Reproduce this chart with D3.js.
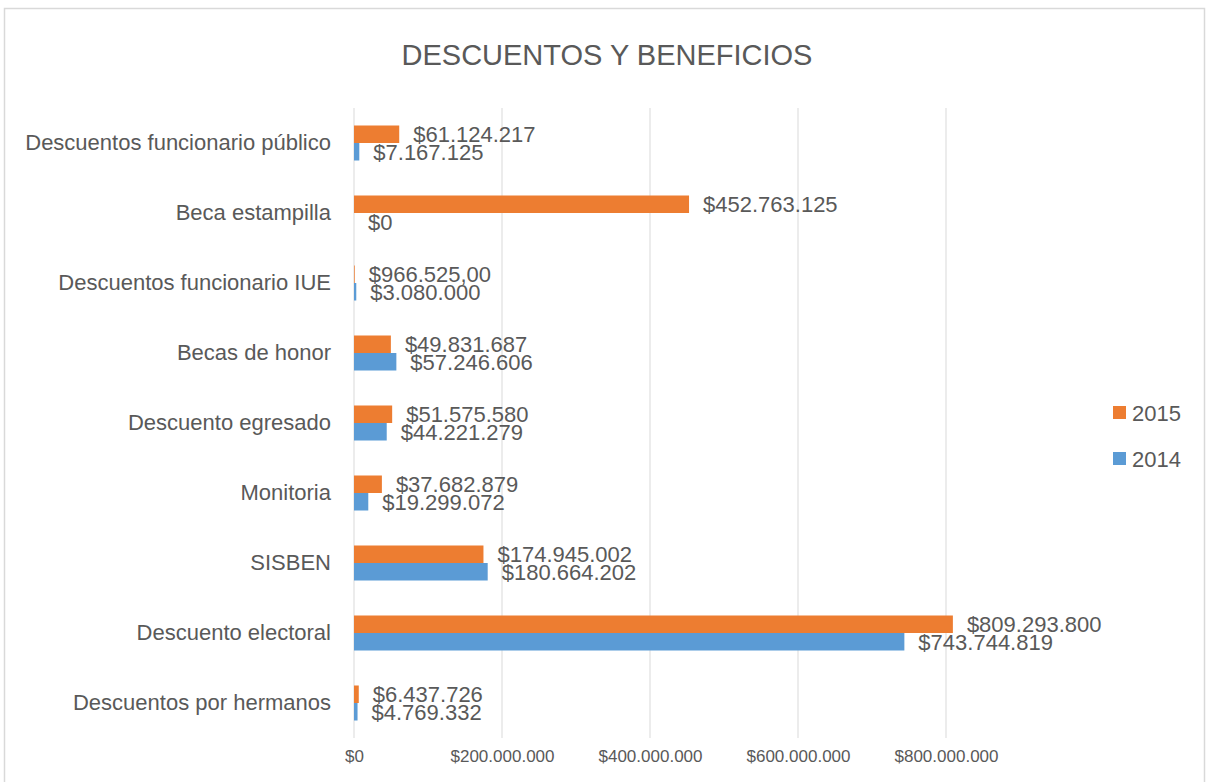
<!DOCTYPE html>
<html lang="es">
<head>
<meta charset="UTF-8">
<title>Descuentos y beneficios</title>
<style>
  body { margin: 0; padding: 0; background: #fff; }
  svg { display: block; font-family: "Liberation Sans", Arial, sans-serif; }
</style>
</head>
<body>
<div id="chart"></div>
<script src="https://cdn.jsdelivr.net/npm/d3@7"></script>
<script>
// data (top to bottom as shown)
const categories = [
  "Descuentos funcionario público",
  "Beca estampilla",
  "Descuentos funcionario IUE",
  "Becas de honor",
  "Descuento egresado",
  "Monitoria",
  "SISBEN",
  "Descuento electoral",
  "Descuentos por hermanos"
];
const values2015 = [61124217, 452763125, 966525, 49831687, 51575580, 37682879, 174945002, 809293800, 6437726];
const values2014 = [7167125, 0, 3080000, 57246606, 44221279, 19299072, 180664202, 743744819, 4769332];
const labels2015 = ["$61.124.217", "$452.763.125", "$966.525,00", "$49.831.687", "$51.575.580", "$37.682.879", "$174.945.002", "$809.293.800", "$6.437.726"];
const labels2014 = ["$7.167.125", "$0", "$3.080.000", "$57.246.606", "$44.221.279", "$19.299.072", "$180.664.202", "$743.744.819", "$4.769.332"];
const series = ["2015", "2014"];
const tickValues = [0, 200000000, 400000000, 600000000, 800000000];
const tickLabels = ["$0", "$200.000.000", "$400.000.000", "$600.000.000", "$800.000.000"];

const w = 1208, h = 782;
const margin = { top: 108, left: 354, bottom: 44 };
const colors = { "2015": "#ED7D31", "2014": "#5B9BD5" };
const textColor = "#595959";

const svg = d3.select("#chart").append("svg")
  .attr("width", w).attr("height", h);

// chart frame
svg.append("rect")
  .attr("x", 4.5).attr("y", 8.5)
  .attr("width", 1200).attr("height", 790)
  .attr("fill", "#fff").attr("stroke", "#D9D9D9").attr("stroke-width", 1.5);

svg.append("text")
  .attr("x", 607).attr("y", 65)
  .attr("text-anchor", "middle")
  .attr("font-size", 29)
  .attr("fill", textColor)
  .text("DESCUENTOS Y BENEFICIOS");

const x = d3.scaleLinear()
  .domain([0, 900000000])
  .range([margin.left, margin.left + 148 * 4.5]);

const y = d3.scaleBand()
  .domain(categories)
  .range([margin.top, h - margin.bottom])
  .paddingInner(0.5)
  .paddingOuter(0.25);

const ySub = d3.scaleBand()
  .domain(series)
  .range([0, y.bandwidth()]);

// gridlines
svg.append("g")
  .selectAll("line")
  .data(tickValues)
  .join("line")
  .attr("x1", d => x(d)).attr("x2", d => x(d))
  .attr("y1", margin.top).attr("y2", h - margin.bottom)
  .attr("stroke", "#D9D9D9").attr("stroke-width", 1);

// x axis labels
const xAxis = svg.append("g")
  .attr("transform", `translate(0, ${h - margin.bottom})`)
  .call(d3.axisBottom(x).tickValues(tickValues).tickFormat((d, i) => tickLabels[i]).tickSize(0).tickPadding(12));
xAxis.select(".domain").remove();
xAxis.selectAll("text")
  .attr("font-size", 17)
  .attr("fill", textColor)
  .attr("font-family", "'Liberation Sans', Arial, sans-serif");

// y axis labels
const yAxis = svg.append("g")
  .attr("transform", `translate(${margin.left}, 0)`)
  .call(d3.axisLeft(y).tickSize(0).tickPadding(23));
yAxis.select(".domain").remove();
yAxis.selectAll("text")
  .attr("font-size", 22)
  .attr("fill", textColor)
  .attr("font-family", "'Liberation Sans', Arial, sans-serif");

const rows = categories.map((c, i) => ({
  cat: c,
  vals: [
    { s: "2015", v: values2015[i], label: labels2015[i] },
    { s: "2014", v: values2014[i], label: labels2014[i] }
  ]
}));

const groups = svg.append("g")
  .selectAll("g")
  .data(rows)
  .join("g")
  .attr("transform", d => `translate(0, ${y(d.cat)})`);

groups.selectAll("rect")
  .data(d => d.vals)
  .join("rect")
  .attr("x", x(0))
  .attr("y", d => ySub(d.s))
  .attr("width", d => x(d.v) - x(0))
  .attr("height", ySub.bandwidth())
  .attr("fill", d => colors[d.s]);

groups.selectAll("text")
  .data(d => d.vals)
  .join("text")
  .attr("x", d => x(d.v) + 14)
  .attr("y", d => ySub(d.s) + ySub.bandwidth() / 2)
  .attr("dy", "0.36em")
  .attr("font-size", 22)
  .attr("fill", textColor)
  .text(d => d.label);

// legend
const legend = svg.append("g")
  .selectAll("g")
  .data(series)
  .join("g")
  .attr("transform", (d, i) => `translate(1113, ${413 + i * 46})`);

legend.append("rect")
  .attr("x", 0).attr("y", -7)
  .attr("width", 13).attr("height", 13)
  .attr("fill", d => colors[d]);

legend.append("text")
  .attr("x", 19).attr("y", 0)
  .attr("dy", "0.36em")
  .attr("font-size", 22)
  .attr("fill", textColor)
  .text(d => d);
</script>
</body>
</html>
